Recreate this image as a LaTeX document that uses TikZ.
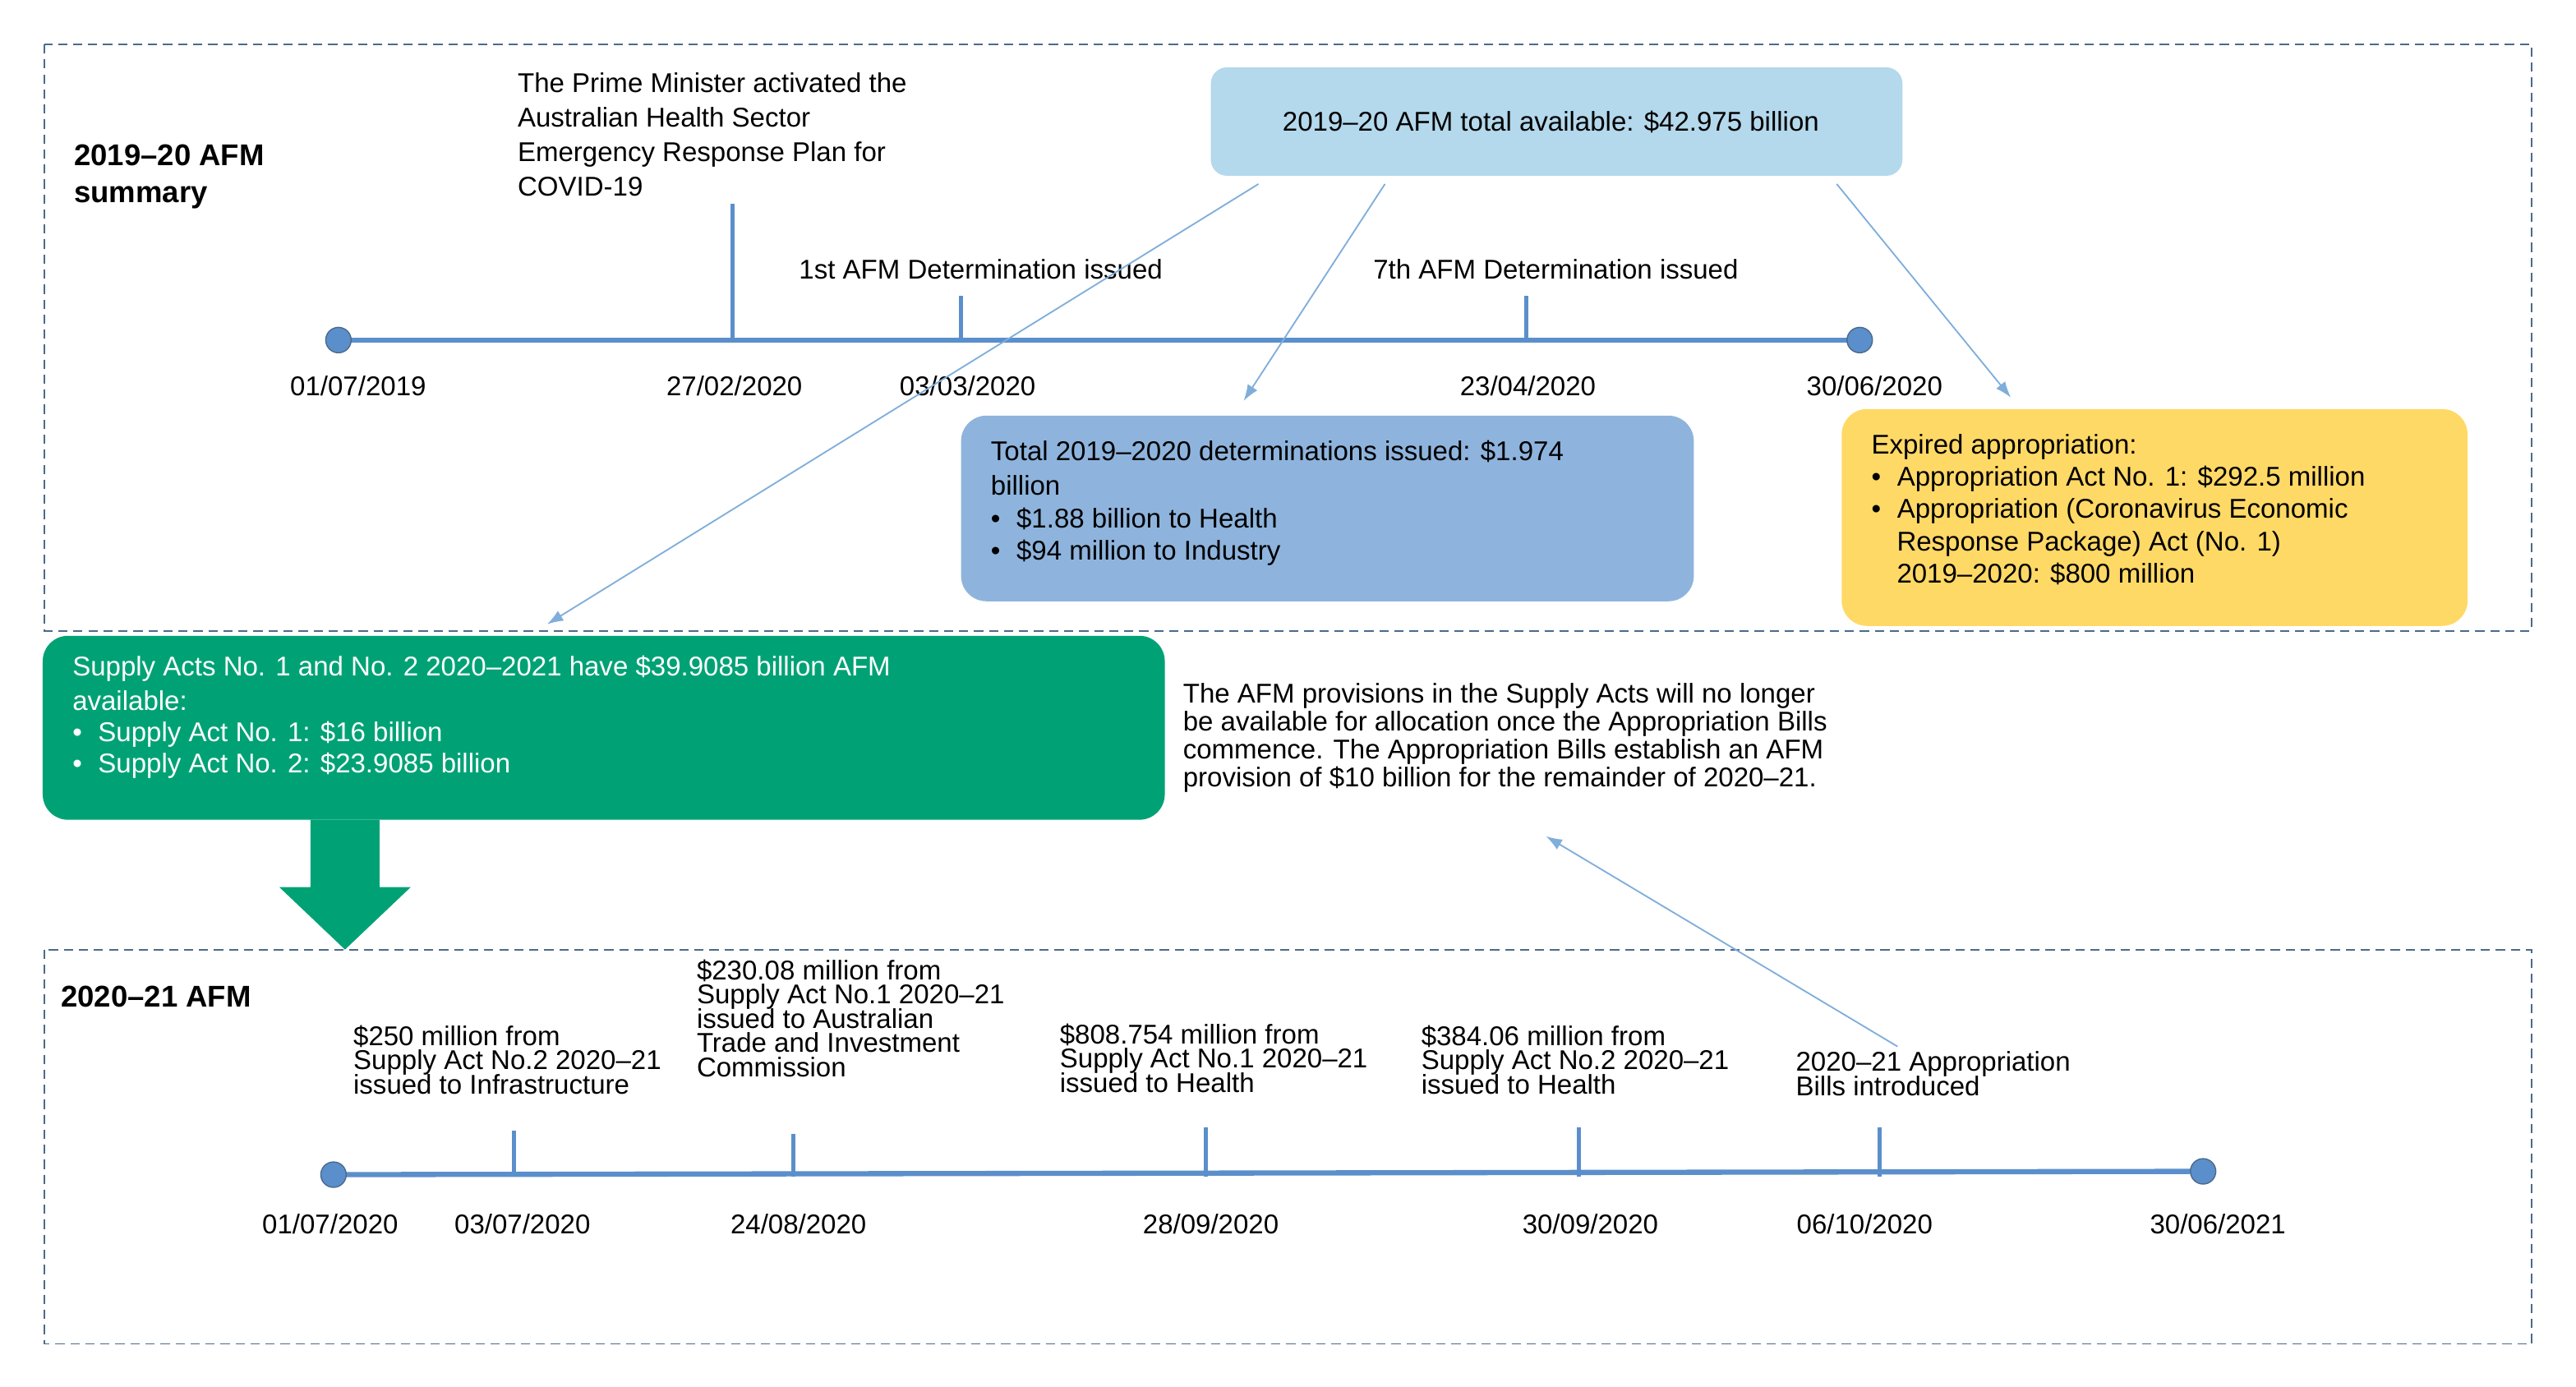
\documentclass[tikz,border=0pt]{standalone}
\usepackage{fontspec}
\setmainfont{Liberation Sans}
\usetikzlibrary{arrows.meta}
\definecolor{tl}{HTML}{5B8FCB}
\definecolor{lb}{HTML}{B4D8EC}
\definecolor{mb}{HTML}{8EB4DD}
\definecolor{yb}{HTML}{FFD966}
\definecolor{gb}{HTML}{00A275}
\definecolor{dash}{HTML}{4A6A8C}
\definecolor{arr}{HTML}{7FAEDB}
\tikzset{
 txt/.style={inner sep=0pt,font=\fontsize{23.5}{30}\selectfont,align=left},
 dt/.style={inner sep=0pt,font=\fontsize{23.5}{30}\selectfont},
 frame/.style={draw=dash,line width=1.4pt,dash pattern=on 8pt off 5pt},
 tline/.style={draw=tl,line width=4.5pt},
 tick/.style={draw=tl,line width=3.5pt},
 dot/.style={circle,fill=tl,draw=dash,line width=1pt,minimum size=22pt,inner sep=0pt},
 thin/.style={draw=arr,line width=1.3pt,-{Latex[length=14pt,width=10pt]}}
}
\begin{document}
\begin{tikzpicture}[x=0.05cm,y=-0.05cm]
\useasboundingbox (0,0) rectangle (1568,844);
\fill[white] (0,0) rectangle (1568,844);
% frames
\draw[frame] (27,27) rectangle (1541,384);
\draw[frame] (27,578) rectangle (1541,818);
\node[txt,anchor=north west,font=\fontsize{26}{32}\selectfont\bfseries] (t1) at (45,88) {2019–20 AFM\\summary};
\node[txt,anchor=north west,font=\fontsize{26}{32}\selectfont\bfseries] (t2) at (37,600) {2020–21 AFM};
% timeline 1
\coordinate (a1) at (206,207); \coordinate (a2) at (1132,207);
\draw[tline] (a1) -- (a2);
\node[dot] (d1) at (a1) {}; \node[dot] (d2) at (a2) {};
\coordinate (k1) at (446,124); \coordinate (k1b) at (446,207);
\coordinate (k2) at (585,180); \coordinate (k2b) at (585,207);
\coordinate (k3) at (929,180); \coordinate (k3b) at (929,207);
\draw[tick] (k1) -- (k1b); \draw[tick] (k2) -- (k2b); \draw[tick] (k3) -- (k3b);
\node[dt] (e1) at (218,235) {01/07/2019};
\node[dt] (e2) at (447,235) {27/02/2020};
\node[dt] (e3) at (589,235) {03/03/2020};
\node[dt] (e4) at (930,235) {23/04/2020};
\node[dt] (e5) at (1141,235) {30/06/2020};
\node[txt,anchor=north west] (pm) at (315,44) {The Prime Minister activated the\\Australian Health Sector\\Emergency Response Plan for\\COVID-19};
\node[dt] (f1) at (597,164) {1st AFM Determination issued};
\node[dt] (f7) at (947,164) {7th AFM Determination issued};
% boxes
\fill[lb,rounded corners=14pt] (737,41) rectangle (1158,107);
\node[dt] (tot) at (944,74) {2019–20 AFM total available: \$42.975 billion};
\fill[mb,rounded corners=22pt] (585,253) rectangle (1031,366);
\node[txt,anchor=north west] (det) at (603,268) {Total 2019–2020 determinations issued: \$1.974\\billion\\[-2pt]\textbullet\hspace{14pt}\$1.88 billion to Health\\[-2pt]\textbullet\hspace{14pt}\$94 million to Industry};
\fill[yb,rounded corners=22pt] (1121,249) rectangle (1502,381);
\node[txt,anchor=north west] (exp) at (1139,264) {Expired appropriation:\\[-2pt]\textbullet\hspace{14pt}Appropriation Act No. 1: \$292.5 million\\[-2pt]\textbullet\hspace{14pt}Appropriation (Coronavirus Economic\\[-2pt]\hspace{22pt}Response Package) Act (No. 1)\\[-2pt]\hspace{22pt}2019–2020: \$800 million};
\fill[gb,rounded corners=22pt] (26,387) rectangle (709,499);
\node[txt,anchor=north west,text=white] (sup) at (44,399) {Supply Acts No. 1 and No. 2 2020–2021 have \$39.9085 billion AFM\\available:\\[-3pt]\textbullet\hspace{14pt}Supply Act No. 1: \$16 billion\\[-3pt]\textbullet\hspace{14pt}Supply Act No. 2: \$23.9085 billion};
\fill[gb] (189,499) -- (231,499) -- (231,540) -- (250,540) -- (210,578) -- (170,540) -- (189,540) -- cycle;
\node[txt,anchor=north west] (prov) at (720,416) {The AFM provisions in the Supply Acts will no longer\\[-6pt]be available for allocation once the Appropriation Bills\\[-6pt]commence. The Appropriation Bills establish an AFM\\[-6pt]provision of \$10 billion for the remainder of 2020–21.};
% arrows
\coordinate (s1) at (766,112); \coordinate (s1e) at (333,380);
\coordinate (s2) at (843,112); \coordinate (s2e) at (757,244);
\coordinate (s3) at (1118,112); \coordinate (s3e) at (1224,242);
\draw[thin] (s1) -- (s1e);
\draw[thin] (s2) -- (s2e);
\draw[thin] (s3) -- (s3e);
\coordinate (s4) at (1155,637); \coordinate (s4e) at (941,509);
\draw[thin] (s4) -- (s4e);
% timeline 2
\coordinate (b1) at (203,715); \coordinate (b2) at (1341,713);
\draw[tline] (b1) -- (b2);
\node[dot] (g1) at (b1) {}; \node[dot] (g2) at (b2) {};
\foreach \xx/\yy [count=\i] in {313/688,483/690,734/686,961/686,1144/686}{
 \coordinate (m\i) at (\xx,\yy); \coordinate (mb\i) at (\xx,716);
 \draw[tick] (m\i) -- (mb\i);}
\node[dt] (h1) at (201,745) {01/07/2020};
\node[dt] (h2) at (318,745) {03/07/2020};
\node[dt] (h3) at (486,745) {24/08/2020};
\node[dt] (h4) at (737,745) {28/09/2020};
\node[dt] (h5) at (968,745) {30/09/2020};
\node[dt] (h6) at (1135,745) {06/10/2020};
\node[dt] (h7) at (1350,745) {30/06/2021};
\node[txt,anchor=north west] (n1) at (215,624) {\$250 million from\\[-9pt]Supply Act No.2 2020–21\\[-9pt]issued to Infrastructure};
\node[txt,anchor=north west] (n2) at (424,584) {\$230.08 million from\\[-9pt]Supply Act No.1 2020–21\\[-9pt]issued to Australian\\[-9pt]Trade and Investment\\[-9pt]Commission};
\node[txt,anchor=north west] (n3) at (645,623) {\$808.754 million from\\[-9pt]Supply Act No.1 2020–21\\[-9pt]issued to Health};
\node[txt,anchor=north west] (n4) at (865,624) {\$384.06 million from\\[-9pt]Supply Act No.2 2020–21\\[-9pt]issued to Health};
\node[txt,anchor=north west] (n5) at (1093,640) {2020–21 Appropriation\\[-9pt]Bills introduced};
\end{tikzpicture}
\end{document}
